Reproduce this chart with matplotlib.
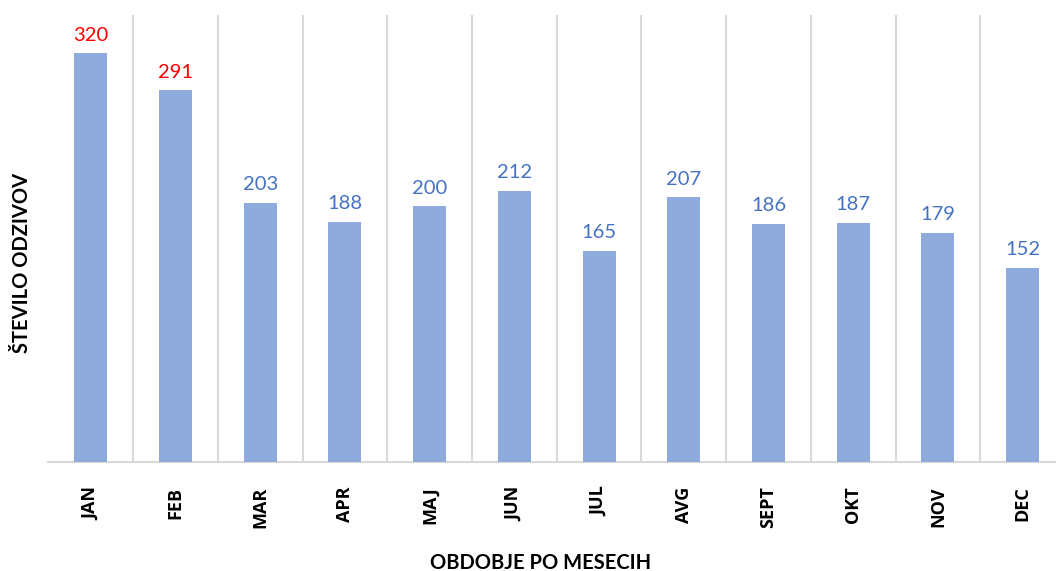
import matplotlib.pyplot as plt
import numpy as np

months = ["JAN", "FEB", "MAR", "APR", "MAJ", "JUN", "JUL", "AVG", "SEPT", "OKT", "NOV", "DEC"]
responses = [320, 291, 203, 188, 200, 212, 165, 207, 186, 187, 179, 152]
highlighted = ["JAN", "FEB"]

plt.rcParams['font.family'] = ['Lato', 'DejaVu Sans']

fig = plt.figure(figsize=(10.56, 5.71), dpi=100)
# axes runs a bit past the right edge, like the cropped original
ax = fig.add_axes([48.5 / 1056, 1 - 461.5 / 571, (1065 - 48.5) / 1056, (461.5 - 15) / 571])

x = np.arange(len(months))
ax.bar(x, responses, width=0.39, color="#8FAADC", zorder=3)

for xi, val, m in zip(x, responses, months):
    col = "#FF0000" if m in highlighted else "#4472C4"
    ax.annotate(str(val), (xi, val), xytext=(0, 7), textcoords="offset points",
                ha="center", va="bottom", fontsize=14.5, color=col)

ax.set_xlim(-0.5, len(months) - 0.5)
ax.set_ylim(0, 350)
ax.set_xticks(x)
ax.set_xticklabels(months, rotation=90, fontsize=13, fontweight="bold", va="top",
                   family=['Open Sans', 'DejaVu Sans'])
ax.tick_params(axis="x", length=0, pad=18)
ax.set_yticks([])

# vertical separators between categories
for b in np.arange(-0.5, len(months), 1.0):
    ax.axvline(b, color="#D9D9D9", lw=1.5, zorder=1)

for side in ["top", "right", "left"]:
    ax.spines[side].set_visible(False)
ax.spines["bottom"].set_color("#D9D9D9")
ax.spines["bottom"].set_linewidth(1.5)

fig.text(541 / 1056, 1 - 563 / 571, "OBDOBJE PO MESECIH", ha="center", va="center",
         fontsize=14.5, fontweight="bold")
fig.text(22 / 1056, 1 - 263 / 571, "ŠTEVILO ODZIVOV", ha="center", va="center",
         rotation=90, fontsize=14.5, fontweight="bold")

fig.savefig("out.png", dpi=100)
